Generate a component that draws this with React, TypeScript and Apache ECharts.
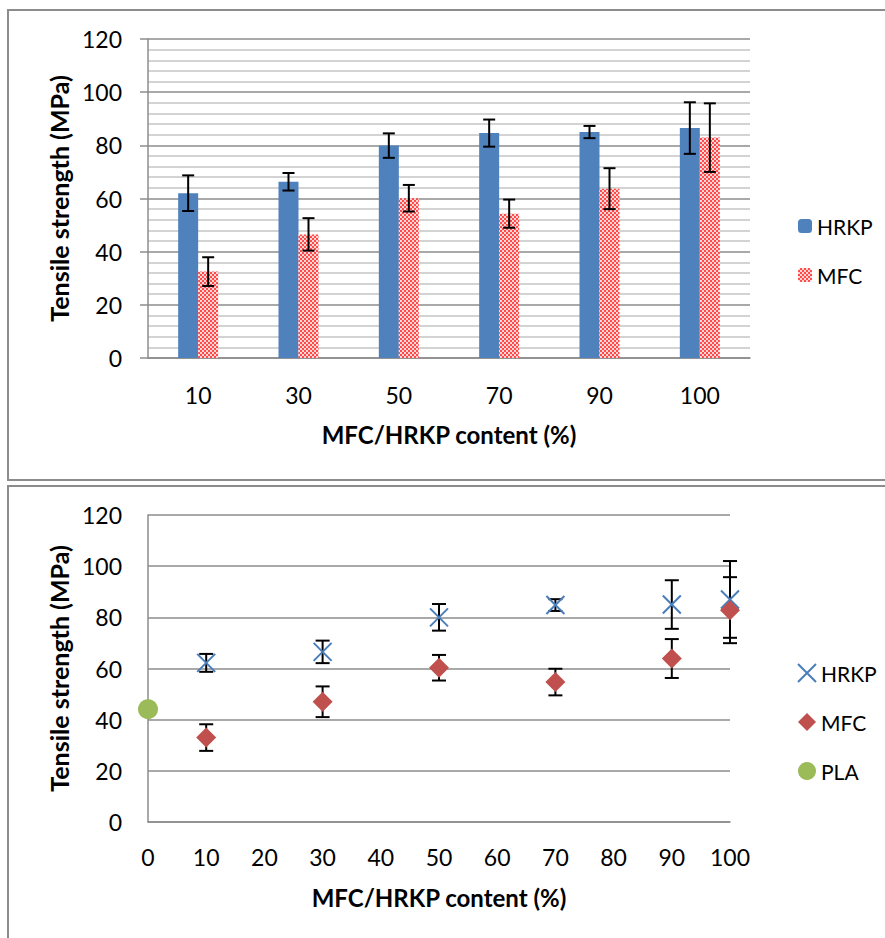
import React, { useEffect, useRef } from "react";
import * as echarts from "echarts";

const categories = ["10", "30", "50", "70", "90", "100"];
const barHRKP = [62, 66.3, 79.9, 84.6, 85, 86.5];
const barHRKPErr = [6.7, 3.3, 4.6, 5.1, 2.3, 9.7];
const barMFC = [32.5, 46.5, 60.1, 54.3, 63.7, 82.9];
const barMFCErr = [5.4, 6.1, 5.0, 5.3, 7.7, 12.9];

const contents = [10, 30, 50, 70, 90, 100];
const scHRKP = [62.2, 66.5, 80, 84.8, 85, 87];
const scHRKPErr = [3.5, 4.4, 5.2, 2.3, 9.5, 15];
const scMFC = [33, 47, 60.3, 54.7, 63.9, 82.8];
const scMFCErr = [5.2, 6.0, 5.0, 5.2, 7.6, 12.9];
const plaX = [0];
const plaY = [44.1];

const FONT = "Lato";
const GRAY = "#8c8c8c";
const BLUE_BAR = "#4f81bd";
const BLUE_X = "#4a7ebb";
const RED_D = "#c0504d";
const GREEN = "#9bbb59";

function makePattern(): string {
  const c = document.createElement("canvas");
  c.width = 4;
  c.height = 4;
  const ctx = c.getContext("2d")!;
  ctx.fillStyle = "#ff4a4a";
  ctx.fillRect(0, 0, 4, 4);
  ctx.fillStyle = "#ffd4d4";
  ctx.fillRect(0, 0, 2, 2);
  ctx.fillRect(2, 2, 2, 2);
  return c.toDataURL();
}

function errorBarSeries(data: number[][], offset: number, half: number, xAxisIndex = 0, yAxisIndex = 0, z = 5) {
  return {
    type: "custom",
    xAxisIndex,
    yAxisIndex,
    z,
    silent: true,
    data,
    encode: { x: 0, y: 1 },
    renderItem: (params: any, api: any) => {
      const x = api.value(0);
      const v = api.value(1);
      const e = api.value(2);
      const hi = api.coord([x, v + e]);
      const lo = api.coord([x, v - e]);
      const cx = hi[0] + offset;
      const style = { stroke: "#000", lineWidth: 2 };
      return {
        type: "group",
        children: [
          { type: "line", shape: { x1: cx, y1: hi[1], x2: cx, y2: lo[1] }, style },
          { type: "line", shape: { x1: cx - half, y1: hi[1], x2: cx + half, y2: hi[1] }, style },
          { type: "line", shape: { x1: cx - half, y1: lo[1], x2: cx + half, y2: lo[1] }, style },
        ],
      };
    },
  };
}

export default function App() {
  const topRef = useRef<HTMLDivElement>(null);
  const botRef = useRef<HTMLDivElement>(null);

  useEffect(() => {
    const pattern = makePattern();
    const c1 = echarts.init(topRef.current!, null, { renderer: "svg" });
    const c2 = echarts.init(botRef.current!, null, { renderer: "svg" });

    const axisLabelStyle = { fontFamily: FONT, fontSize: 23, color: "#000" };
    const xNameStyle = { fontFamily: FONT, fontSize: 24, fontWeight: "bold" as const, color: "#000" };
    const yNameStyle = { fontFamily: FONT, fontSize: 25, fontWeight: "bold" as const, color: "#000" };

    c1.setOption({
      animation: false,
      textStyle: { fontFamily: FONT },
      graphic: [
        {
          type: "rect",
          shape: { x: 8, y: 10, width: 900, height: 470 },
          style: { fill: "none", stroke: GRAY, lineWidth: 2 },
          silent: true,
        },
      ],
      grid: { left: 148, top: 39, width: 602, height: 319 },
      legend: {
        orient: "vertical",
        left: 793,
        top: 209,
        itemWidth: 14,
        itemHeight: 14,
        itemGap: 25,
        data: ["HRKP", "MFC"],
        textStyle: { fontFamily: FONT, fontSize: 21, color: "#000", lineHeight: 24 },
      },
      xAxis: {
        type: "category",
        data: categories,
        axisLine: { show: true, lineStyle: { color: GRAY, width: 1.5 } },
        axisTick: { show: false },
        axisLabel: { ...axisLabelStyle, margin: 25 },
        name: "MFC/HRKP content (%)",
        nameLocation: "middle",
        nameGap: 64,
        nameTextStyle: xNameStyle,
      },
      yAxis: {
        type: "value",
        min: 0,
        max: 120,
        interval: 20,
        axisLine: { show: true, lineStyle: { color: GRAY, width: 1.5 } },
        axisTick: { show: true, length: 8, lineStyle: { color: GRAY, width: 1.5 } },
        axisLabel: { ...axisLabelStyle, margin: 26 },
        splitLine: { show: true, lineStyle: { color: GRAY, width: 1.5 } },
        minorTick: { show: false, splitNumber: 5 },
        minorSplitLine: { show: true, lineStyle: { color: "#c4c4c4", width: 1.5 } },
        name: "Tensile strength (MPa)",
        nameLocation: "middle",
        nameGap: 74,
        nameTextStyle: yNameStyle,
      },
      series: [
        {
          name: "HRKP",
          type: "bar",
          data: barHRKP,
          barWidth: 20,
          barGap: "0%",
          itemStyle: { color: BLUE_BAR },
        },
        {
          name: "MFC",
          type: "bar",
          data: barMFC,
          barWidth: 20,
          barGap: "0%",
          itemStyle: {
            color: { image: pattern, repeat: "repeat", imageWidth: 4, imageHeight: 4 } as any,
          },
        },
        errorBarSeries(barHRKP.map((v, i) => [i, v, barHRKPErr[i]]), -10, 6, 0, 0, 5),
        errorBarSeries(barMFC.map((v, i) => [i, v, barMFCErr[i]]), 10, 6, 0, 0, 5),
      ],
    });

    c2.setOption({
      animation: false,
      textStyle: { fontFamily: FONT },
      graphic: [
        {
          type: "rect",
          shape: { x: 8, y: 3, width: 900, height: 500 },
          style: { fill: "none", stroke: GRAY, lineWidth: 2 },
          silent: true,
        },
      ],
      grid: { left: 148, top: 32, width: 582, height: 307 },
      legend: {
        orient: "vertical",
        left: 792,
        top: 173,
        itemWidth: 18,
        itemHeight: 18,
        itemGap: 25,
        data: ["HRKP", "MFC", "PLA"],
        textStyle: { fontFamily: FONT, fontSize: 21, color: "#000", lineHeight: 24 },
      },
      xAxis: {
        type: "value",
        min: 0,
        max: 100,
        interval: 10,
        axisLine: { show: true, lineStyle: { color: GRAY, width: 1.5 } },
        axisTick: { show: false },
        splitLine: { show: false },
        axisLabel: { ...axisLabelStyle, margin: 23 },
        name: "MFC/HRKP content (%)",
        nameLocation: "middle",
        nameGap: 63,
        nameTextStyle: xNameStyle,
      },
      yAxis: {
        type: "value",
        min: 0,
        max: 120,
        interval: 20,
        axisLine: { show: true, lineStyle: { color: GRAY, width: 1.5 } },
        axisTick: { show: false },
        axisLabel: { ...axisLabelStyle, margin: 26 },
        splitLine: { show: true, lineStyle: { color: GRAY, width: 1.5 } },
        name: "Tensile strength (MPa)",
        nameLocation: "middle",
        nameGap: 74,
        nameTextStyle: yNameStyle,
      },
      series: [
        errorBarSeries(contents.map((x, i) => [x, scHRKP[i], scHRKPErr[i]]), 0, 7, 0, 0, 2),
        errorBarSeries(contents.map((x, i) => [x, scMFC[i], scMFCErr[i]]), 0, 7, 0, 0, 2),
        {
          name: "HRKP",
          type: "scatter",
          z: 4,
          symbol: "path://M0,0L10,10M10,0L0,10",
          symbolSize: 18,
          data: contents.map((x, i) => [x, scHRKP[i]]),
          itemStyle: { color: BLUE_X, borderColor: BLUE_X, borderWidth: 2, opacity: 1 },
        },
        {
          name: "MFC",
          type: "scatter",
          z: 4,
          symbol: "diamond",
          symbolSize: 20,
          data: contents.map((x, i) => [x, scMFC[i]]),
          itemStyle: { color: RED_D, opacity: 1 },
        },
        {
          name: "PLA",
          type: "scatter",
          z: 4,
          symbol: "circle",
          symbolSize: 20,
          data: plaX.map((x, i) => [x, plaY[i]]),
          itemStyle: { color: GREEN, opacity: 1 },
        },
      ],
    });

    return () => {
      c1.dispose();
      c2.dispose();
    };
  }, []);

  return (
    <div style={{ position: "absolute", left: 0, top: 0, width: 885, height: 938, background: "#fff" }}>
      <div ref={topRef} style={{ position: "absolute", left: 0, top: 0, width: 885, height: 483 }} />
      <div ref={botRef} style={{ position: "absolute", left: 0, top: 483, width: 885, height: 455 }} />
    </div>
  );
}
